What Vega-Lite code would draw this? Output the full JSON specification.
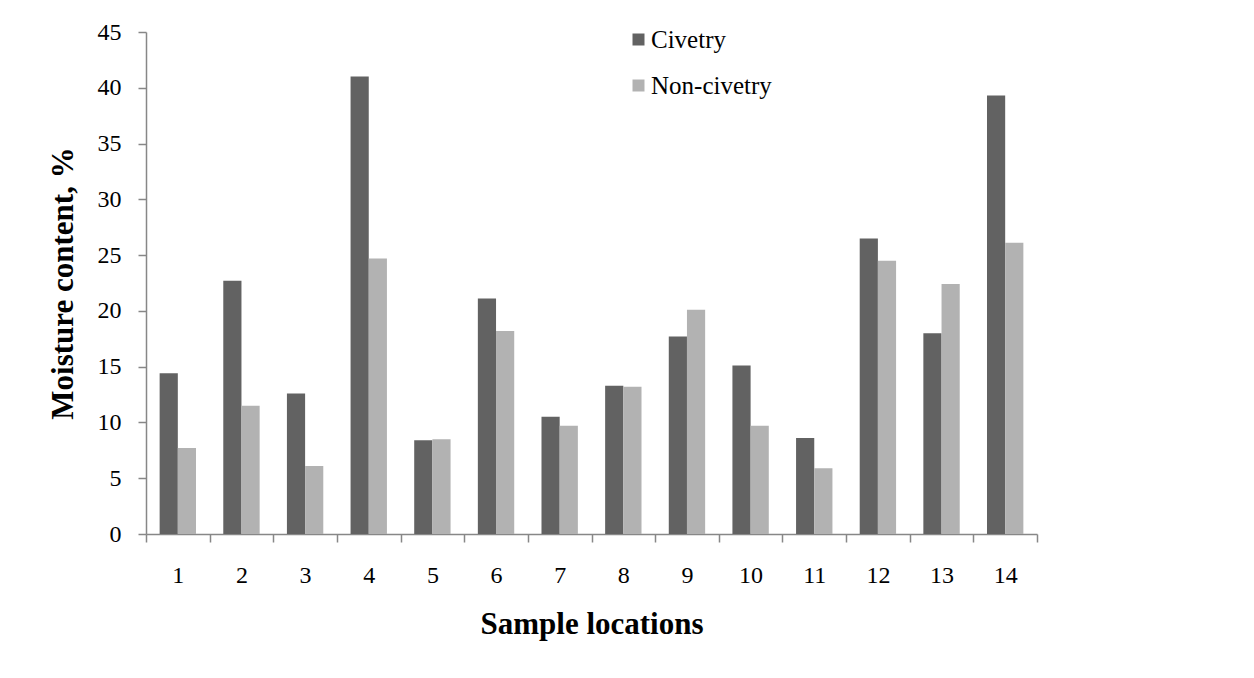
{
  "$schema": "https://vega.github.io/schema/vega-lite/v6.json",
  "width": 891,
  "height": 502,
  "autosize": {"type": "none"},
  "padding": {"left": 146, "top": 32, "right": 217, "bottom": 144},
  "background": "white",
  "data": {
    "values": [
      {"location": 1, "series": "Civetry", "moisture": 14.4},
      {"location": 1, "series": "Non-civetry", "moisture": 7.7},
      {"location": 2, "series": "Civetry", "moisture": 22.7},
      {"location": 2, "series": "Non-civetry", "moisture": 11.5},
      {"location": 3, "series": "Civetry", "moisture": 12.6},
      {"location": 3, "series": "Non-civetry", "moisture": 6.1},
      {"location": 4, "series": "Civetry", "moisture": 41.0},
      {"location": 4, "series": "Non-civetry", "moisture": 24.7},
      {"location": 5, "series": "Civetry", "moisture": 8.4},
      {"location": 5, "series": "Non-civetry", "moisture": 8.5},
      {"location": 6, "series": "Civetry", "moisture": 21.1},
      {"location": 6, "series": "Non-civetry", "moisture": 18.2},
      {"location": 7, "series": "Civetry", "moisture": 10.5},
      {"location": 7, "series": "Non-civetry", "moisture": 9.7},
      {"location": 8, "series": "Civetry", "moisture": 13.3},
      {"location": 8, "series": "Non-civetry", "moisture": 13.2},
      {"location": 9, "series": "Civetry", "moisture": 17.7},
      {"location": 9, "series": "Non-civetry", "moisture": 20.1},
      {"location": 10, "series": "Civetry", "moisture": 15.1},
      {"location": 10, "series": "Non-civetry", "moisture": 9.7},
      {"location": 11, "series": "Civetry", "moisture": 8.6},
      {"location": 11, "series": "Non-civetry", "moisture": 5.9},
      {"location": 12, "series": "Civetry", "moisture": 26.5},
      {"location": 12, "series": "Non-civetry", "moisture": 24.5},
      {"location": 13, "series": "Civetry", "moisture": 18.0},
      {"location": 13, "series": "Non-civetry", "moisture": 22.4},
      {"location": 14, "series": "Civetry", "moisture": 39.3},
      {"location": 14, "series": "Non-civetry", "moisture": 26.1}
    ]
  },
  "mark": {"type": "bar"},
  "encoding": {
    "x": {
      "field": "location",
      "type": "ordinal",
      "scale": {"paddingInner": 0, "paddingOuter": 0},
      "axis": {
        "title": "Sample locations",
        "labelAngle": 0,
        "tickBand": "extent",
        "tickSize": 8,
        "labelPadding": 21,
        "labelFontSize": 24,
        "titleFontSize": 31,
        "titlePadding": 22
      }
    },
    "xOffset": {
      "field": "series",
      "type": "nominal",
      "sort": ["Civetry", "Non-civetry"],
      "scale": {"paddingOuter": 0.75, "paddingInner": 0}
    },
    "y": {
      "field": "moisture",
      "type": "quantitative",
      "scale": {"domain": [0, 45], "nice": false},
      "axis": {
        "title": "Moisture content, %",
        "values": [0, 5, 10, 15, 20, 25, 30, 35, 40, 45],
        "grid": false,
        "tickSize": 8,
        "labelPadding": 17,
        "labelFontSize": 24,
        "titleFontSize": 31,
        "titlePadding": 18
      }
    },
    "color": {
      "field": "series",
      "type": "nominal",
      "scale": {"domain": ["Civetry", "Non-civetry"], "range": ["#626262", "#b2b2b2"]},
      "legend": {
        "title": null,
        "orient": "none",
        "legendX": 480,
        "legendY": -5,
        "padding": 0,
        "symbolType": "square",
        "symbolSize": 144,
        "symbolStrokeWidth": 0,
        "labelFontSize": 25,
        "labelOffset": 0,
        "rowPadding": 20,
        "labelColor": "black",
        "labelFont": "Liberation Serif"
      }
    }
  },
  "config": {
    "font": "Liberation Serif",
    "view": {"stroke": null},
    "axis": {
      "domainColor": "#878787",
      "domainWidth": 1.5,
      "tickColor": "#878787",
      "tickWidth": 1.5,
      "labelColor": "black",
      "titleColor": "black",
      "labelFont": "Liberation Serif",
      "titleFont": "Liberation Serif",
      "titleFontWeight": "bold"
    }
  }
}
